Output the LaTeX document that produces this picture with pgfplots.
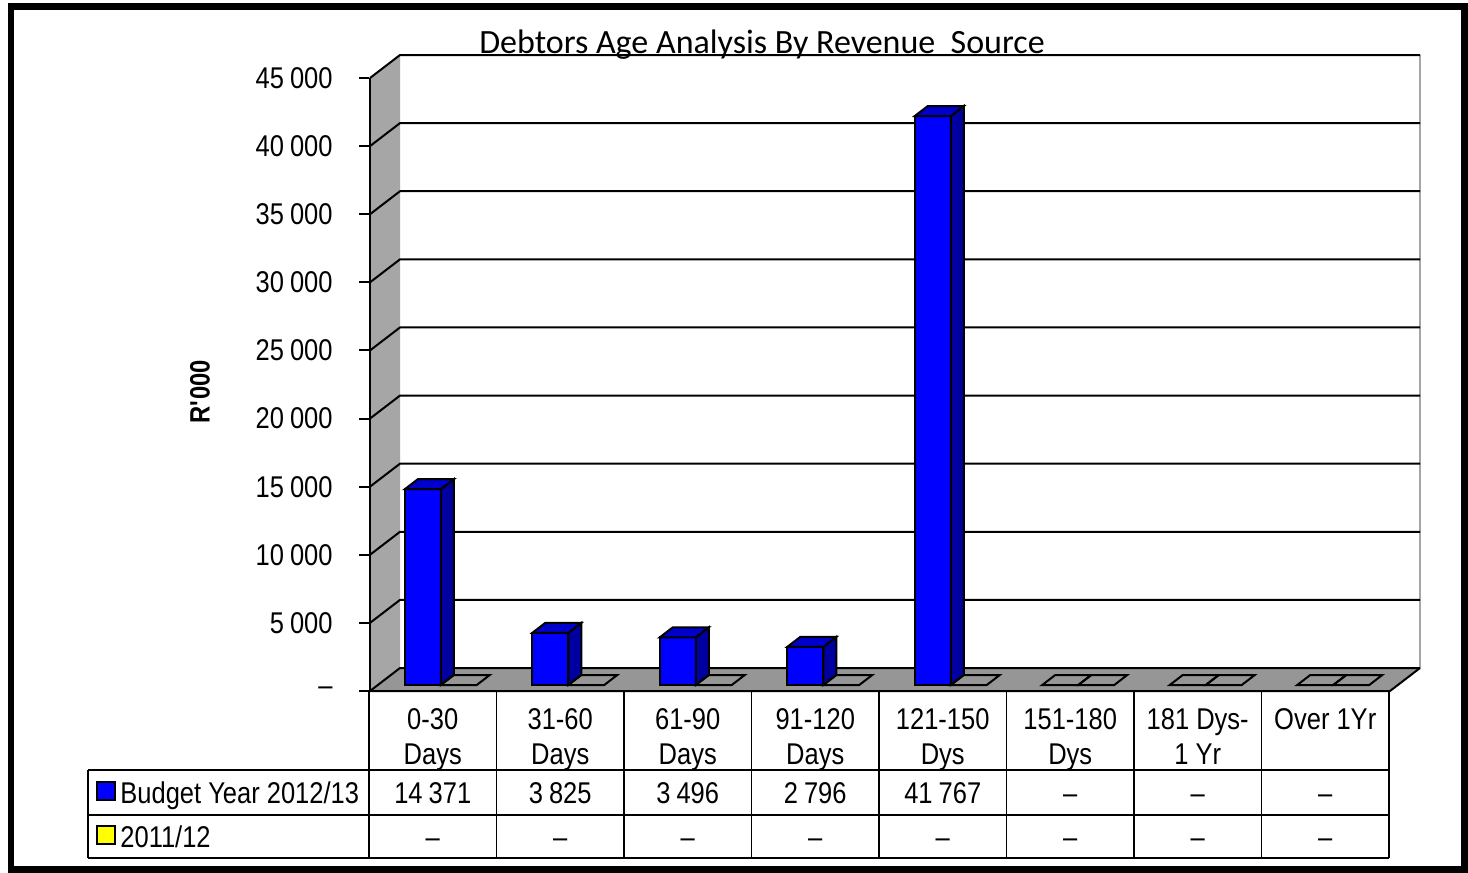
\documentclass[border=0pt]{standalone}
\usepackage{pgfplots}
\pgfplotsset{compat=1.18}
\usepackage{pgfplotstable}
\usepackage{fontspec}
\setmainfont{Liberation Sans}[FakeStretch=0.85]
\newfontfamily\titlefont{Carlito}
\definecolor{barfront}{RGB}{0,0,255}
\definecolor{barside}{RGB}{0,0,160}
\definecolor{bartop}{RGB}{0,0,205}
\definecolor{yfront}{RGB}{255,255,0}
\definecolor{wallgray}{RGB}{166,166,166}
\definecolor{floorgray}{RGB}{150,150,150}
\newcommand\tsep{\kern0.2em}
\newcommand\bodyfont{\fontsize{15}{17.5}\selectfont}

\pgfplotstableread{
x budget prior
0 14371 0
1 3825 0
2 3496 0
3 2796 0
4 41767 0
5 0 0
6 0 0
7 0 0
}\debtors

\newcommand\drawcuboid[4]{%
  \pgfpointdiff{\pgfplotspointaxisxy{0}{\barval}}{\pgfplotspointaxisxy{0}{0}}%
  \pgfgetlastxy{\cbw}{\cbh}%
  \pgfsetlinewidth{1pt}%
  \pgfsetstrokecolor{black}%
  \pgfsetmiterjoin
  \ifdim\cbh<-0.5pt\relax
    \pgfsetfillcolor{#2}%
    \pgfpathrectanglecorners{\pgfpoint{#1}{\cbh+3pt}}{\pgfpoint{#1+18pt}{3pt}}%
    \pgfusepath{fill,stroke}%
    \pgfsetfillcolor{#3}%
    \pgfpathmoveto{\pgfpoint{#1+18pt}{\cbh+3pt}}%
    \pgfpathlineto{\pgfpoint{#1+18pt}{3pt}}%
    \pgfpathlineto{\pgfpoint{#1+24.5pt}{8pt}}%
    \pgfpathlineto{\pgfpoint{#1+24.5pt}{\cbh+8pt}}%
    \pgfpathclose
    \pgfusepath{fill,stroke}%
    \pgfsetfillcolor{#4}%
    \pgfpathmoveto{\pgfpoint{#1}{3pt}}%
    \pgfpathlineto{\pgfpoint{#1+18pt}{3pt}}%
    \pgfpathlineto{\pgfpoint{#1+24.5pt}{8pt}}%
    \pgfpathlineto{\pgfpoint{#1+6.5pt}{8pt}}%
    \pgfpathclose
    \pgfusepath{fill,stroke}%
  \else
    \pgfpathmoveto{\pgfpoint{#1}{3pt}}%
    \pgfpathlineto{\pgfpoint{#1+18pt}{3pt}}%
    \pgfpathlineto{\pgfpoint{#1+24.5pt}{8pt}}%
    \pgfpathlineto{\pgfpoint{#1+6.5pt}{8pt}}%
    \pgfpathclose
    \pgfusepath{stroke}%
  \fi
}
\pgfdeclareplotmark{cubA}{\drawcuboid{-14pt}{barfront}{barside}{bartop}}
\pgfdeclareplotmark{cubB}{\drawcuboid{4pt}{yfront}{yfront}{yfront}}

\begin{document}
\begin{tikzpicture}
\begin{scope}[x=0.5pt,y=-0.5pt]
  \useasboundingbox (0,0) rectangle (1468,873);
  % back wall
  \fill[white] (400,55) rectangle (1420,668);
  \draw[black!35, line width=1pt] (1420,55) -- (1420,668);
  % left wall and floor
  \fill[wallgray] (370,691) -- (370,78) -- (400,55) -- (400,668) -- cycle;
  \fill[floorgray] (370,691) -- (1390,691) -- (1420,668) -- (400,668) -- cycle;
  % gridlines
  \foreach \k in {0,...,9} {
    \draw[black, line width=1pt] (370,{691-68.111*\k}) -- ++(30,-23) -- ++(1020,0);
  }
  \draw[line width=1pt] (370,691) -- (1390,691) -- (1420,668);
  \draw[line width=1pt] (370,691) -- (370,78);
  % data table grid
  \draw[line width=0.8pt] (88,770) -- (1389,770)
                          (88,815) -- (1389,815)
                          (88,858) -- (1389,858)
                          (88,770) -- (88,858);
  \foreach \xx in {369,496.5,624,751.5,879,1006.5,1134,1261.5,1389}
    \draw[line width=0.8pt] (\xx,691) -- (\xx,858);
  % legend keys and row labels
  \draw[fill=barfront, line width=0.8pt] (97,782) rectangle (115,800);
  \draw[fill=yfront, line width=0.8pt] (97,826) rectangle (115,844);
  \node[anchor=base west, inner sep=0pt, font=\bodyfont] at (120,803) {Budget Year 2012/13};
  \node[anchor=base west, inner sep=0pt, font=\bodyfont] at (120,847) {2011/12};
  % table values
  \foreach \v [count=\i from 0] in {14\tsep371,3\tsep825,3\tsep496,2\tsep796,41\tsep767,–,–,–}
    \node[anchor=base, inner sep=0pt, font=\bodyfont] at ({432.75+127.5*\i},803) {\v};
  \foreach \i in {0,...,7}
    \node[anchor=base, inner sep=0pt, font=\bodyfont] at ({432.75+127.5*\i},847) {–};
  % title and axis label
  \node[anchor=base, inner sep=0pt, font=\titlefont\fontsize{17}{19}\selectfont] at (762,53)
    {Debtors Age Analysis By Revenue\ \ Source};
  \node[rotate=90, inner sep=0pt, font=\bfseries\fontsize{14}{16}\selectfont] at (200,392)
    {R\textquotesingle 000};
  % outer frame
  \draw[line width=3.25pt] (11,6.5) rectangle (1464.5,869.5);
\end{scope}
\begin{axis}[
  at={(184.5pt,-345.5pt)}, anchor=south west,
  scale only axis, width=510pt, height=306.5pt,
  xmin=-0.5, xmax=7.5, ymin=0, ymax=45000,
  clip=false,
  axis line style={draw=none},
  ytick={0,5000,...,45000},
  yticklabels={–,5\tsep000,10\tsep000,15\tsep000,20\tsep000,25\tsep000,30\tsep000,35\tsep000,40\tsep000,45\tsep000},
  ytick pos=left, tick align=outside, major tick length=5pt,
  ytick style={black, line width=1pt},
  xtick={0,...,7},
  xticklabels={0-30\\Days,31-60\\Days,61-90\\Days,91-120\\Days,121-150\\Dys,151-180\\Dys,181 Dys-\\1 Yr,Over 1Yr},
  xtick style={draw=none},
  ticklabel style={font=\bodyfont},
  xticklabel style={anchor=north, align=center, inner sep=0pt, yshift=-3.5pt},
  yticklabel style={anchor=east, inner sep=0pt, xshift=-13pt},
  scaled y ticks=false,
]
\addplot[scatter, only marks, mark=cubA,
  visualization depends on={rawy \as \barval}]
  table[x=x, y=budget]{\debtors};
\addplot[scatter, only marks, mark=cubB,
  visualization depends on={rawy \as \barval}]
  table[x=x, y=prior]{\debtors};
\end{axis}
\end{tikzpicture}
\end{document}
